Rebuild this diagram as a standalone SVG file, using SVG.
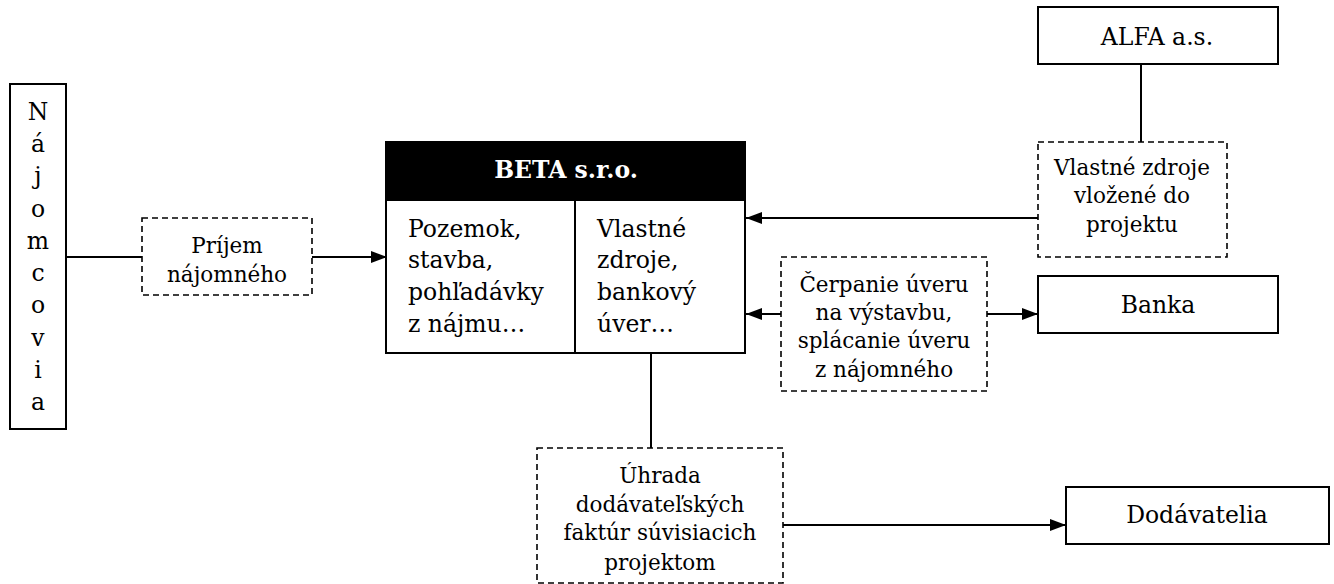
<svg xmlns="http://www.w3.org/2000/svg" width="1334" height="584" viewBox="0 0 1334 584">
<style>
.box{fill:#fff;stroke:#000;stroke-width:2}
.dash{fill:#fff;stroke:#000;stroke-width:1.6;stroke-dasharray:6 4}
.t{font-family:"DejaVu Serif","Liberation Serif",serif;font-size:21.5px;fill:#000}
.L{font-size:23.5px}
.c{text-anchor:middle}
.line{stroke:#000;stroke-width:2;fill:none}
.arr{stroke:#000;stroke-width:2;fill:none;marker-end:url(#ah)}
</style>
<defs>
<marker id="ah" viewBox="0 0 16 12" refX="16" refY="6" markerWidth="16" markerHeight="12" markerUnits="userSpaceOnUse" orient="auto">
<path d="M0,0 L16,6 L0,12 z" fill="#000"/>
</marker>
</defs>
<rect width="1334" height="584" fill="#fff"/>
<g id="connectors">
<line class="line" x1="66" y1="257" x2="142" y2="257"/>
<line class="arr" x1="312" y1="257" x2="387" y2="257"/>
<line class="line" x1="1141" y1="64" x2="1141" y2="142"/>
<line class="arr" x1="1038" y1="218" x2="746" y2="218"/>
<line class="arr" x1="781" y1="314" x2="746" y2="314"/>
<line class="arr" x1="987" y1="314" x2="1038" y2="314"/>
<line class="line" x1="651" y1="353" x2="651" y2="448"/>
<line class="arr" x1="783" y1="525" x2="1066" y2="525"/>
</g>
<g id="najomcovia">
<rect class="box" x="10" y="84" width="56" height="345"/>
<text class="t L c" x="38" y="120">N</text>
<text class="t L c" x="38" y="152">á</text>
<text class="t L c" x="38" y="184">j</text>
<text class="t L c" x="38" y="217">o</text>
<text class="t L c" x="38" y="249">m</text>
<text class="t L c" x="38" y="281">c</text>
<text class="t L c" x="38" y="313">o</text>
<text class="t L c" x="38" y="346">v</text>
<text class="t L c" x="38" y="378">i</text>
<text class="t L c" x="38" y="410">a</text>
</g>
<g id="prijem">
<rect class="dash" x="142" y="218" width="170" height="77"/>
<text class="t c" x="227" y="253">Príjem</text>
<text class="t c" x="227" y="282">nájomného</text>
</g>
<g id="beta">
<rect class="box" x="386" y="142" width="359" height="211"/>
<rect x="386" y="142" width="359" height="58" fill="#000" stroke="#000" stroke-width="2"/>
<line class="line" x1="575" y1="200" x2="575" y2="353"/>
<text class="t L c" x="566" y="178" style="font-weight:bold;fill:#fff">BETA s.r.o.</text>
<text class="t L" x="408" y="237">Pozemok,</text>
<text class="t L" x="408" y="268">stavba,</text>
<text class="t L" x="408" y="300">pohľadávky</text>
<text class="t L" x="408" y="332">z nájmu…</text>
<text class="t L" x="597" y="237">Vlastné</text>
<text class="t L" x="597" y="268">zdroje,</text>
<text class="t L" x="597" y="300">bankový</text>
<text class="t L" x="597" y="332">úver…</text>
</g>
<g id="alfa">
<rect class="box" x="1038" y="7" width="240" height="57"/>
<text class="t L c" x="1157" y="45">ALFA a.s.</text>
</g>
<g id="vlastne-zdroje">
<rect class="dash" x="1038" y="142" width="189" height="115"/>
<text class="t c" x="1132" y="175">Vlastné zdroje</text>
<text class="t c" x="1132" y="203">vložené do</text>
<text class="t c" x="1132" y="232">projektu</text>
</g>
<g id="cerpanie">
<rect class="dash" x="781" y="257" width="206" height="134"/>
<text class="t c" x="884" y="292">Čerpanie úveru</text>
<text class="t c" x="884" y="320">na výstavbu,</text>
<text class="t c" x="884" y="348">splácanie úveru</text>
<text class="t c" x="884" y="377">z nájomného</text>
</g>
<g id="banka">
<rect class="box" x="1038" y="276" width="240" height="57"/>
<text class="t L c" x="1158" y="313">Banka</text>
</g>
<g id="uhrada">
<rect class="dash" x="537" y="448" width="246" height="135"/>
<text class="t c" x="660" y="483">Úhrada</text>
<text class="t c" x="660" y="512">dodávateľských</text>
<text class="t c" x="660" y="540">faktúr súvisiacich</text>
<text class="t c" x="660" y="570">projektom</text>
</g>
<g id="dodavatelia">
<rect class="box" x="1066" y="487" width="263" height="57"/>
<text class="t L c" x="1197" y="523">Dodávatelia</text>
</g>
</svg>
